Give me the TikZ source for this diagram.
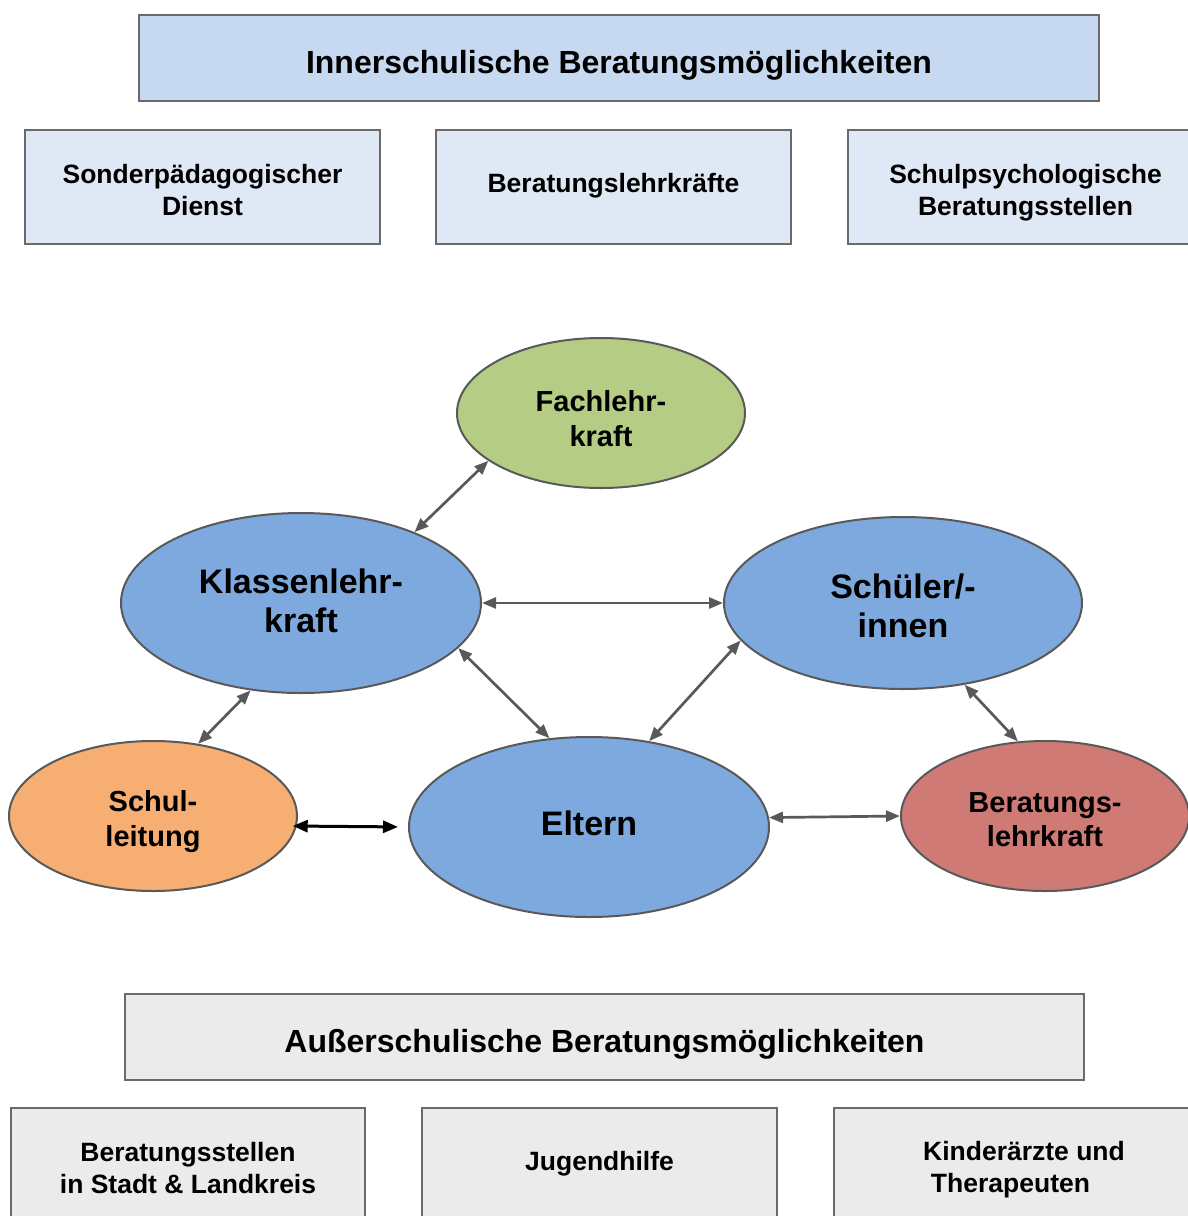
\documentclass[tikz,border=0pt]{standalone}
\usepackage{fontspec}
\setmainfont{Liberation Sans}
\usetikzlibrary{arrows.meta,shapes.geometric}
\definecolor{bordergray}{HTML}{6A6A6A}
\definecolor{arrowgray}{HTML}{595959}
\definecolor{bannerblue}{HTML}{C6D9F0}
\definecolor{boxblue}{HTML}{DFE9F6}
\definecolor{boxgrey}{HTML}{EBEBEB}
\definecolor{ellblue}{HTML}{7EA9DE}
\definecolor{ellgreen}{HTML}{B5CC85}
\definecolor{ellorange}{HTML}{F6AE72}
\definecolor{ellred}{HTML}{D07A76}
\begin{document}
\begin{tikzpicture}[x=1pt,y=-1pt,
  banner/.style={draw=bordergray, line width=2pt, minimum width=960pt, minimum height=86pt, inner sep=0pt},
  infobox/.style={draw=bordergray, line width=2pt, minimum width=355pt, minimum height=114pt, inner sep=0pt},
  bigell/.style={ellipse, draw=arrowgray, line width=2pt, inner sep=0pt,
    minimum width=360pt, minimum height=180pt},
  smallell/.style={ellipse, draw=arrowgray, line width=2pt, inner sep=0pt,
    minimum width=288pt, minimum height=150pt},
  bannertext/.style={anchor=base, inner sep=0pt, font=\fontsize{32}{38}\selectfont\bfseries},
  boxtext/.style={anchor=base, inner sep=0pt, align=center, font=\fontsize{26.5}{32}\selectfont\bfseries},
  bigtext/.style={anchor=base, inner sep=0pt, align=center, font=\fontsize{34}{39}\selectfont\bfseries},
  smalltext/.style={anchor=base, inner sep=0pt, align=center, font=\fontsize{29}{34.5}\selectfont\bfseries},
  link/.style={draw=arrowgray, line width=2.7pt, {Triangle[length=14pt,width=11pt]}-{Triangle[length=14pt,width=11pt]}},
  blacklink/.style={draw=black, line width=3pt, {Triangle[length=15pt,width=12pt]}-{Triangle[length=15pt,width=12pt]}}
]
\useasboundingbox (0,0) rectangle (1187,1216);

% top section
\node[banner, fill=bannerblue] (inner) at (619,58) {};
\node[bannertext] (inner-t) at (619,73.3) {Innerschulische Beratungsmöglichkeiten};
\node[infobox, fill=boxblue] (sonder) at (202.5,187) {};
\node[boxtext] (sonder-t) at (202.5,215.3) {Sonderpädagogischer\\Dienst};
\node[infobox, fill=boxblue] (blk) at (613.5,187) {};
\node[boxtext] (blk-t) at (613.5,192) {Beratungslehrkräfte};
\node[infobox, fill=boxblue] (schulpsy) at (1025.5,187) {};
\node[boxtext] (schulpsy-t) at (1025.5,215.3) {Schulpsychologische\\Beratungsstellen};

% ellipses
\node[smallell, fill=ellgreen] (fach) at (601,413) {};
\node[smalltext] (fach-t) at (601,446) {Fachlehr-\\kraft};
\node[bigell, fill=ellblue] (klasse) at (301,603) {};
\node[bigtext] (klasse-t) at (301,632.5) {Klassenlehr-\\kraft};
\node[bigell, fill=ellblue, minimum width=358pt, minimum height=172pt] (schueler) at (903,603) {};
\node[bigtext] (schueler-t) at (903,637.5) {Schüler/-\\innen};
\node[smallell, fill=ellorange] (leitung) at (153,816) {};
\node[smalltext] (leitung-t) at (153,846.2) {Schul-\\leitung};
\node[bigell, fill=ellblue] (eltern) at (589,827) {};
\node[bigtext] (eltern-t) at (589,835) {Eltern};
\node[smallell, fill=ellred] (berat) at (1045,816) {};
\node[smalltext] (berat-t) at (1045,846.5) {Beratungs-\\lehrkraft};

% connectors
\draw[link] (klasse.32) -- (fach.203);
\draw[link] (klasse.east) -- (schueler.west);
\draw[link] (klasse.-16) -- (eltern.114.5);
\draw[link] (klasse.-120.3) -- (leitung.58.5);
\draw[link] (schueler.193.8) -- (eltern.55.9);
\draw[link] (schueler.-53.8) -- (berat.110.5);
\draw[link] (eltern.3) -- (berat.west);
\draw[blacklink, shorten <=-4pt, shorten >=10pt] (leitung.-4) -- (eltern.west);

% bottom section
\node[banner, fill=boxgrey, minimum width=959pt] (ausser) at (604.5,1037) {};
\node[bannertext] (ausser-t) at (604.5,1052.3) {Außerschulische Beratungsmöglichkeiten};
\node[infobox, fill=boxgrey, minimum width=354pt, minimum height=116pt] (stellen) at (188,1166) {};
\node[boxtext] (stellen-t) at (188,1193) {Beratungsstellen\\in Stadt \& Landkreis};
\node[infobox, fill=boxgrey, minimum width=355pt, minimum height=116pt] (jugend) at (599.5,1166) {};
\node[boxtext] (jugend-t) at (599.5,1170) {Jugendhilfe};
\node[infobox, fill=boxgrey, minimum width=355pt, minimum height=116pt] (kinder) at (1011.5,1166) {};
\node[boxtext] (kinder-t) at (1024,1192.5) {Kinderärzte und\\Therapeuten\hspace*{27pt}};
\end{tikzpicture}
\end{document}
